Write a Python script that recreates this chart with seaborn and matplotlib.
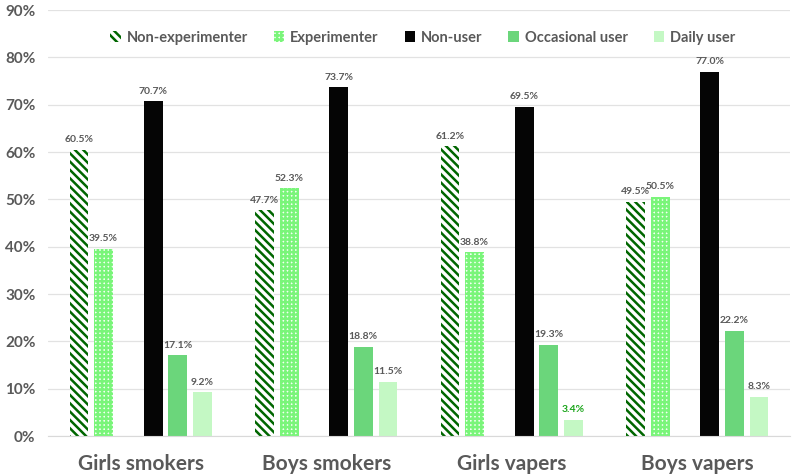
import numpy as np
import pandas as pd
import seaborn as sns
import matplotlib.pyplot as plt
from matplotlib.patches import Patch


# data
groups = ["Girls smokers", "Boys smokers", "Girls vapers", "Boys vapers"]
non_experimenter = [60.5, 47.7, 61.2, 49.5]
experimenter = [39.5, 52.3, 38.8, 50.5]
non_user = [70.7, 73.7, 69.5, 77.0]
occasional_user = [17.1, 18.8, 19.3, 22.2]
daily_user = [9.2, 11.5, 3.4, 8.3]

series = {
    "Non-experimenter": non_experimenter,
    "Experimenter": experimenter,
    "Non-user": non_user,
    "Occasional user": occasional_user,
    "Daily user": daily_user,
}

rows = []
for name, vals in series.items():
    for g, v in zip(groups, vals):
        rows.append({"group": g, "type": name, "value": v})
df = pd.DataFrame(rows)

# empty slot between the two series families
hue_order = ["Non-experimenter", "Experimenter", " ", "Non-user", "Occasional user", "Daily user"]
palette = {
    "Non-experimenter": "white",
    "Experimenter": "white",
    " ": "white",
    "Non-user": "#050505",
    "Occasional user": "#6bd67b",
    "Daily user": "#c4f8c4",
}

sns.set_style("white")
plt.rcParams["font.family"] = ["Lato", "DejaVu Sans"]
plt.rcParams["hatch.linewidth"] = 1.8
gray = "#595959"

fig = plt.figure(figsize=(7.99, 4.74), dpi=100)
ax = fig.add_axes([48 / 799, 38 / 474, 742 / 799, 426 / 474])

sns.barplot(data=df, x="group", y="value", hue="type", hue_order=hue_order,
            palette=palette, width=0.8, gap=0.24, saturation=1, legend=False,
            order=groups, ax=ax)

names = list(series.keys())
bars = sorted([p for p in ax.patches if p.get_height() > 0], key=lambda p: p.get_x())
for gi in range(len(groups)):
    for si, name in enumerate(names):
        bar = bars[gi * len(names) + si]
        bar.set_linewidth(0)
        if name == "Non-experimenter":
            bar.set_facecolor("white")
            bar.set_edgecolor("#006600")
            bar.set_hatch("\\" * 4)
        elif name == "Experimenter":
            bar.set_facecolor("#f4fff4")
            bar.set_edgecolor("#7af57a")
            bar.set_hatch("+" * 4)
        v = series[name][gi]
        color = "#1aa51a" if (name == "Daily user" and gi == 2) else gray
        ax.annotate(f"{v:.1f}%", (bar.get_x() + bar.get_width() / 2, bar.get_height()),
                    xytext=(0, 4), textcoords="offset points", ha="center", va="bottom",
                    fontsize=7.5, fontweight="bold", color=color)

ax.set_ylim(0, 90)
ax.set_xlim(-0.5, 3.5)
ax.set_yticks(np.arange(0, 91, 10))
ax.set_yticklabels([f"{t}%" for t in range(0, 91, 10)], fontsize=11,
                   fontweight="bold", color=gray)
ax.set_xticks(range(len(groups)))
ax.set_xticklabels(groups, fontsize=15, fontweight="bold", color=gray)
ax.tick_params(axis="x", length=0, pad=13)
ax.tick_params(axis="y", length=0, pad=9)
ax.set_xlabel("")
ax.set_ylabel("")
ax.yaxis.grid(True, color="#e2e2e2", linewidth=0.9)
ax.set_axisbelow(True)
sns.despine(ax=ax, left=True, top=True, right=True)
ax.spines["bottom"].set_color("#d9d9d9")

handles = [
    Patch(facecolor="white", edgecolor="#006600", hatch="\\" * 4, linewidth=0),
    Patch(facecolor="#f4fff4", edgecolor="#7af57a", hatch="+" * 4, linewidth=0),
    Patch(facecolor="#050505", linewidth=0),
    Patch(facecolor="#6bd67b", linewidth=0),
    Patch(facecolor="#c4f8c4", linewidth=0),
]
leg = ax.legend(handles, names, ncol=5, loc="center", bbox_to_anchor=(0.505, 0.935),
                frameon=False, handlelength=0.7, handleheight=0.7, handletextpad=0.4,
                columnspacing=1.8, prop={"size": 10.5, "weight": "bold"})
for t in leg.get_texts():
    t.set_color(gray)

fig.savefig("out.png", dpi=100)
